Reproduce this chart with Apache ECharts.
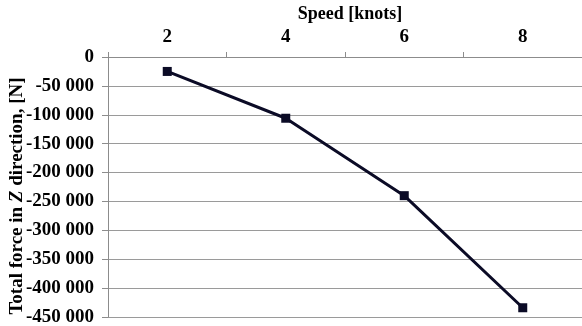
<!DOCTYPE html>
<html>
<head>
<meta charset="utf-8">
<script src="https://cdn.jsdelivr.net/npm/echarts@6/dist/echarts.min.js"></script>
<style>html,body{margin:0;padding:0;background:#fff}#c{width:582px;height:326px}</style>
</head>
<body>
<div id="c"></div>
<script>
const speeds = ['2', '4', '6', '8'];
const totalForceZ = [-25000, -106000, -240000, -434000];
const yTicks = { min: -450000, max: 0, interval: 50000 };
const xAxisName = 'Speed [knots]';

const chart = echarts.init(document.getElementById('c'), null, { renderer: 'canvas' });
const font = '"Liberation Serif", "Times New Roman", serif';
function fmt(v) {
  if (v === 0) return '0';
  const s = Math.abs(v).toString().replace(/\B(?=(\d{3})+(?!\d))/g, ' ');
  return (v < 0 ? '-' : '') + s;
}
chart.setOption({
  animation: false,
  backgroundColor: '#fff',
  grid: { left: 108, right: 0, top: 57, bottom: 9, outerBoundsMode: 'none', containLabel: false },
  xAxis: {
    type: 'category',
    position: 'top',
    data: speeds,
    boundaryGap: true,
    name: xAxisName,
    nameLocation: 'middle',
    nameGap: 33,
    nameTextStyle: { fontFamily: font, fontWeight: 'bold', fontSize: 18, color: '#000', padding: [0, 0, 0, 10] },
    axisLine: { lineStyle: { color: '#8c8c8c', width: 1 } },
    axisTick: { show: true, length: 5, lineStyle: { color: '#8c8c8c' } },
    axisLabel: { fontFamily: font, fontWeight: 'bold', fontSize: 19, color: '#000', margin: 10 },
    splitLine: { show: false }
  },
  yAxis: {
    type: 'value',
    min: yTicks.min, max: yTicks.max, interval: yTicks.interval,
    name: '{b|Total force in }{i|Z}{b| direction, [N]}',
    nameLocation: 'middle',
    nameRotate: 90,
    nameGap: 81,
    nameMoveOverlap: false,
    nameTextStyle: {
      fontFamily: font, fontWeight: 'bold', fontSize: 19, color: '#000',
      padding: [0, 18, 0, 0],
      rich: {
        b: { fontFamily: font, fontWeight: 'bold', fontSize: 19, color: '#000' },
        i: { fontFamily: font, fontWeight: 'bold', fontStyle: 'italic', fontSize: 19, color: '#000' }
      }
    },
    axisLine: { show: true, lineStyle: { color: '#8c8c8c', width: 1 } },
    axisTick: { show: true, length: 6, lineStyle: { color: '#8c8c8c' } },
    axisLabel: { fontFamily: font, fontWeight: 'bold', fontSize: 19, color: '#000', margin: 14, formatter: fmt },
    splitLine: { show: true, lineStyle: { color: '#9a9a9a', width: 1 } }
  },
  series: [{
    type: 'line',
    data: totalForceZ,
    symbol: 'rect',
    symbolSize: 9,
    lineStyle: { color: '#0b0b26', width: 3 },
    itemStyle: { color: '#0b0b26' }
  }]
});
</script>
</body>
</html>
